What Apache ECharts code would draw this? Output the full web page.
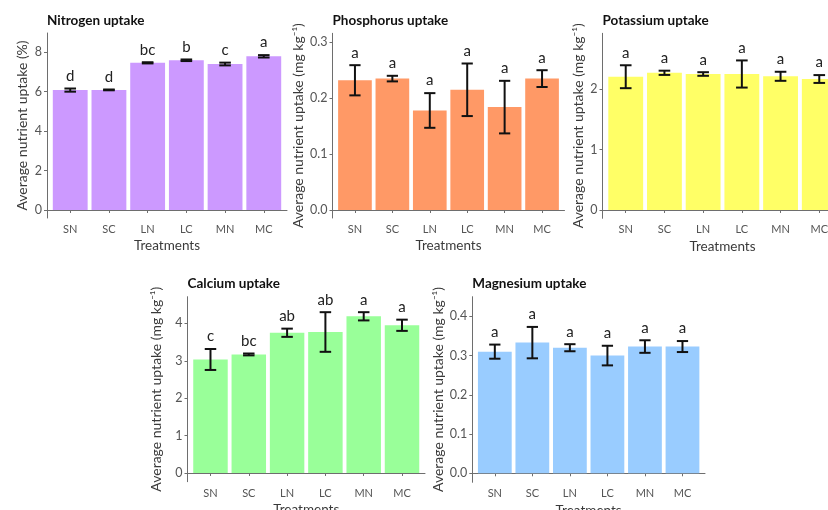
<!DOCTYPE html>
<html><head><meta charset="utf-8">
<script src="https://cdn.jsdelivr.net/npm/echarts@6/dist/echarts.min.js"></script>
<style>html,body{margin:0;padding:0;background:#fff}#c{width:828px;height:510px}</style>
</head><body><div id="c"></div>
<script>
// ---- data ----
const categories = ['SN', 'SC', 'LN', 'LC', 'MN', 'MC'];
const titles = ['Nitrogen uptake', 'Phosphorus uptake', 'Potassium uptake', 'Calcium uptake', 'Magnesium uptake'];
const yNames = ['Average nutrient uptake (%)', 'Average nutrient uptake (mg kg\u207B\u00B9)', 'Average nutrient uptake (mg kg\u207B\u00B9)', 'Average nutrient uptake (mg kg\u207B\u00B9)', 'Average nutrient uptake (mg kg\u207B\u00B9)'];
const xName = 'Treatments';

const nitrogenMean = [6.07, 6.08, 7.45, 7.58, 7.39, 7.78];
const nitrogenSE   = [0.08, 0.02, 0.03, 0.04, 0.07, 0.06];
const nitrogenLetters = ['d', 'd', 'bc', 'b', 'c', 'a'];

const phosphorusMean = [0.232, 0.235, 0.178, 0.215, 0.184, 0.235];
const phosphorusSE   = [0.027, 0.005, 0.031, 0.047, 0.047, 0.015];
const phosphorusLetters = ['a', 'a', 'a', 'a', 'a', 'a'];

const potassiumMean = [2.21, 2.275, 2.255, 2.255, 2.217, 2.172];
const potassiumSE   = [0.19, 0.035, 0.03, 0.225, 0.075, 0.065];
const potassiumLetters = ['a', 'a', 'a', 'a', 'a', 'a'];

const calciumMean = [3.035, 3.17, 3.75, 3.77, 4.19, 3.95];
const calciumSE   = [0.28, 0.025, 0.11, 0.53, 0.11, 0.15];
const calciumLetters = ['c', 'bc', 'ab', 'ab', 'a', 'a'];

const magnesiumMean = [0.310, 0.333, 0.320, 0.300, 0.323, 0.323];
const magnesiumSE   = [0.018, 0.040, 0.009, 0.025, 0.016, 0.014];
const magnesiumLetters = ['a', 'a', 'a', 'a', 'a', 'a'];

const nitrogenTicks = [0, 2, 4, 6, 8];
const phosphorusTicks = [0, 0.1, 0.2, 0.3];
const potassiumTicks = [0, 1, 2];
const calciumTicks = [0, 1, 2, 3, 4];
const magnesiumTicks = [0, 0.1, 0.2, 0.3, 0.4];

// ---- layout / style ----
const FONT = 'Lato';
const colors = ['#CC99FF', '#FF9966', '#FFFF66', '#99FF99', '#99CCFF'];
const means = [nitrogenMean, phosphorusMean, potassiumMean, calciumMean, magnesiumMean];
const ses = [nitrogenSE, phosphorusSE, potassiumSE, calciumSE, magnesiumSE];
const letters = [nitrogenLetters, phosphorusLetters, potassiumLetters, calciumLetters, magnesiumLetters];
const ticks = [nitrogenTicks, phosphorusTicks, potassiumTicks, calciumTicks, magnesiumTicks];
const decimals = [0, 1, 0, 0, 1];
const layouts = [
  {left: 47,    top: 33,    width: 240,   height: 185,   yMin: -0.405,  yMax: 8.96,  nameGap: 18, tTop: 14},
  {left: 332.5, top: 33.3,  width: 232,   height: 184.7, yMin: -0.0143, yMax: 0.316, nameGap: 27, tTop: 14},
  {left: 602.5, top: 33.3,  width: 240,   height: 185,   yMin: -0.138,  yMax: 2.93,  nameGap: 17, tTop: 14},
  {left: 187.5, top: 296.7, width: 237.5, height: 185,   yMin: -0.233,  yMax: 4.714, nameGap: 24, tTop: 277},
  {left: 472.3, top: 296.7, width: 232.7, height: 185.6, yMin: -0.0229, yMax: 0.45,  nameGap: 27, tTop: 277}
];

const axisColor = '#6e6e6e';
const labelColor = '#555';
const xPositions = categories.map((c, j) => j + 1);

const option = {
  animation: false,
  backgroundColor: '#fff',
  textStyle: {fontFamily: FONT},
  title: layouts.map((l, i) => ({
    text: titles[i], left: l.left, top: l.tTop, padding: 0,
    textStyle: {fontFamily: FONT, fontSize: 13.5, fontWeight: 'bold', color: '#111'}
  })),
  grid: layouts.map(l => ({left: l.left, top: l.top, width: l.width, height: l.height,
    containLabel: false, outerBoundsMode: 'none'})),
  xAxis: layouts.map((l, i) => ({
    type: 'value', gridIndex: i, min: 0.4, max: 6.6,
    name: xName, nameLocation: 'middle', nameGap: 21,
    nameTextStyle: {fontFamily: FONT, fontSize: 13.5, color: '#3a3a3a'},
    axisLine: {show: true, lineStyle: {color: axisColor, width: 1}},
    axisTick: {show: true, length: 3, lineStyle: {color: axisColor}, customValues: xPositions},
    axisLabel: {show: true, margin: 6, fontFamily: FONT, fontSize: 11, color: labelColor,
      customValues: xPositions, formatter: v => categories[Math.round(v) - 1] || ''},
    splitLine: {show: false}
  })),
  yAxis: layouts.map((l, i) => ({
    type: 'value', gridIndex: i, min: l.yMin, max: l.yMax,
    name: yNames[i], nameLocation: 'middle', nameGap: l.nameGap,
    nameTextStyle: {fontFamily: FONT, fontSize: 14, color: '#3a3a3a'},
    axisLine: {show: true, lineStyle: {color: axisColor, width: 1}},
    axisTick: {show: true, length: 3, lineStyle: {color: axisColor}, customValues: ticks[i]},
    axisLabel: {show: true, margin: 5, fontFamily: FONT, fontSize: 12.5, color: labelColor,
      customValues: ticks[i], formatter: v => Number(v).toFixed(decimals[i])},
    splitLine: {show: false}
  })),
  series: []
};

layouts.forEach((l, i) => {
  const catW = l.width / 6.2;
  option.series.push({
    type: 'bar', xAxisIndex: i, yAxisIndex: i, silent: true, z: 2,
    barWidth: catW * 0.9,
    itemStyle: {color: colors[i]},
    data: categories.map((c, j) => [xPositions[j], means[i][j]])
  });
  option.series.push({
    type: 'custom', xAxisIndex: i, yAxisIndex: i, silent: true, clip: false, z: 5,
    encode: {x: 0, y: [1, 2]},
    data: categories.map((c, j) => [xPositions[j], means[i][j] - ses[i][j], means[i][j] + ses[i][j]]),
    renderItem: (params, api) => {
      const x = api.value(0), lo = api.value(1), hi = api.value(2);
      const pLo = api.coord([x, lo]), pHi = api.coord([x, hi]);
      const half = api.size([0.3, 0])[0] / 2;
      const st = {stroke: '#111', lineWidth: 2};
      return {type: 'group', children: [
        {type: 'line', shape: {x1: pHi[0], y1: pHi[1], x2: pLo[0], y2: pLo[1]}, style: st},
        {type: 'line', shape: {x1: pHi[0] - half, y1: pHi[1], x2: pHi[0] + half, y2: pHi[1]}, style: st},
        {type: 'line', shape: {x1: pLo[0] - half, y1: pLo[1], x2: pLo[0] + half, y2: pLo[1]}, style: st},
        {type: 'text', x: pHi[0], y: pHi[1] - 5, style: {text: letters[i][params.dataIndex], fill: '#222',
          font: '15px ' + FONT, align: 'center', verticalAlign: 'bottom'}}
      ]};
    }
  });
});

const chart = echarts.init(document.getElementById('c'), null, {renderer: 'canvas'});
chart.setOption(option);
</script></body></html>
